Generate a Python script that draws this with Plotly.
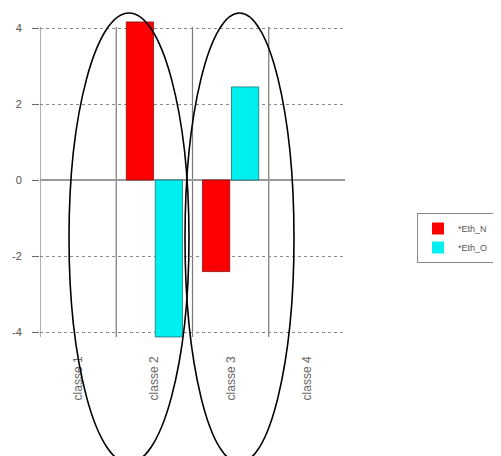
import plotly.graph_objects as go

categories = ["classe 1", "classe 2", "classe 3", "classe 4"]
eth_n = [0, 4.16, -2.41, 0]
eth_o = [0, -4.13, 2.45, 0]
y_ticks = [-4, -2, 0, 2, 4]
series_names = ["*Eth_N", "*Eth_O"]

# the page body adds an 8px offset; positions below are in reference pixels
OFF = 8
W, H = 501, 456
L, T = 40 - OFF, 14 - OFF
RIGHT_PX, BOTTOM_PX = 345 - OFF, 340 - OFF
R, B = W - RIGHT_PX, H - BOTTOM_PX
plot_w = RIGHT_PX - L
plot_h = BOTTOM_PX - T
px_per_unit = 38.0
zero_px = 180 - OFF
y_lo = -(BOTTOM_PX - zero_px) / px_per_unit
y_hi = (zero_px - T) / px_per_unit

xpos = [i + 1 for i in range(len(categories))]

def outline(vals):
    return [0.8 if v != 0 else 0 for v in vals]

fig = go.Figure()
fig.add_trace(go.Bar(x=xpos, y=eth_n, name=series_names[0],
                     marker=dict(color="#ff0000", line=dict(color="#8a1010", width=outline(eth_n)))))
fig.add_trace(go.Bar(x=xpos, y=eth_o, name=series_names[1],
                     marker=dict(color="#00f0f0", line=dict(color="#207070", width=outline(eth_o)))))

shapes = []
for i in range(len(categories)):
    shapes.append(dict(type="line", xref="x", yref="y", x0=i + 0.5, x1=i + 0.5,
                       y0=-4.13, y1=4.03, line=dict(color="#7a7a7a", width=1.2), layer="below"))

def px2paper_x(px):
    return (px - OFF - L) / plot_w

def px2paper_y(py):
    return (BOTTOM_PX - (py - OFF)) / plot_h

for (x0, x1) in [(69, 189), (185, 294)]:
    shapes.append(dict(type="circle", xref="paper", yref="paper",
                       x0=px2paper_x(x0), x1=px2paper_x(x1),
                       y0=px2paper_y(463), y1=px2paper_y(13),
                       line=dict(color="black", width=1.6), layer="above"))

fig.update_layout(
    width=W, height=H,
    margin=dict(l=L, r=R, t=T, b=B, pad=0, autoexpand=False),
    paper_bgcolor="white", plot_bgcolor="white",
    barmode="group", bargap=0.24, bargroupgap=0.06,
    font=dict(family="Liberation Sans, Arial, sans-serif", size=10, color="#555555"),
    shapes=shapes,
    showlegend=True,
    legend=dict(x=px2paper_x(417), y=px2paper_y(213), xanchor="left", yanchor="top",
                bordercolor="#888888", borderwidth=1, bgcolor="white",
                font=dict(size=9, color="#555555"), itemwidth=30, tracegroupgap=0),
)
fig.update_xaxes(range=[0.5, 4.5], tickvals=xpos, ticktext=categories, automargin=False,
                 tickangle=-90, showgrid=False, zeroline=False, showline=False,
                 ticks="", ticklabelstandoff=13, tickfont=dict(size=12, color="#666666"))
fig.update_yaxes(range=[y_lo, y_hi], tickvals=y_ticks, ticktext=[str(v) for v in y_ticks],
                 automargin=False,
                 showgrid=True, gridcolor="#8a8a8a", griddash="dot", gridwidth=1,
                 zeroline=True, zerolinecolor="#9a9a9a", zerolinewidth=1.5,
                 showline=False, ticks="outside", ticklen=7, tickcolor="#666666",
                 ticklabelstandoff=8, tickfont=dict(size=11, color="#555555"))

fig.write_html("out.html")
